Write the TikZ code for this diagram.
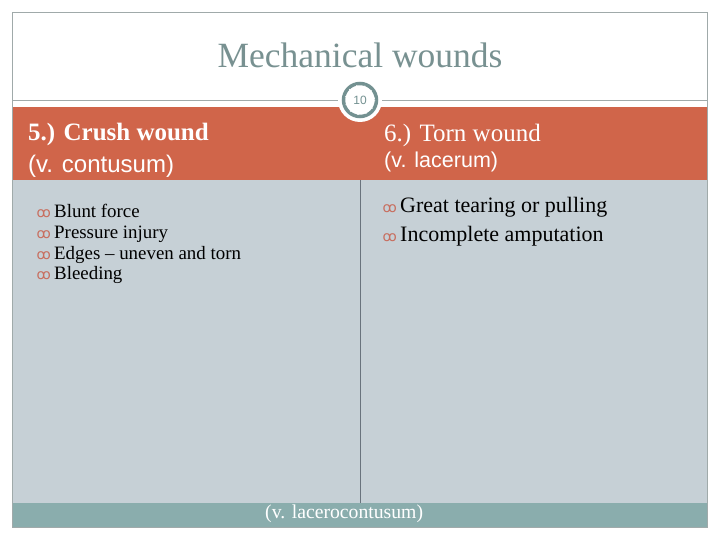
\documentclass[tikz,border=0pt]{standalone}
\usepackage{fontspec}
\setmainfont{Liberation Serif}
\setsansfont{Liberation Sans}
\newfontfamily\bulfont{DejaVu Sans}
\usetikzlibrary{positioning}
\definecolor{frameline}{RGB}{160,170,170}
\definecolor{titlegrey}{RGB}{120,145,145}
\definecolor{headred}{RGB}{208,101,74}
\definecolor{bodyblue}{RGB}{198,208,214}
\definecolor{footteal}{RGB}{138,173,173}
\definecolor{divline}{RGB}{105,115,125}
\definecolor{ringgrey}{RGB}{115,145,145}
\definecolor{bulletred}{RGB}{200,110,95}

\begin{document}
\begin{tikzpicture}[x=1pt, y=-1pt,
  hd/.style={anchor=base west, inner sep=0pt, text=white},
  itm/.style={anchor=base west, inner sep=0pt},
  bul/.style={anchor=base east, inner sep=0pt, text=bulletred, font=\bulfont\fontsize{14}{14}\selectfont}]
\useasboundingbox[fill=white] (0,0) rectangle (720,540);
% panels
\fill[bodyblue] (12,180) rectangle (707,503);
\fill[headred] (12,107) rectangle (707,180);
\fill[footteal] (12,503) rectangle (707,527);
\draw[frameline] (12,12) rectangle (707,527);
\coordinate (rl) at (12,100);
\coordinate (rr) at (707,100);
\coordinate (dtop) at (360,180);
\coordinate (dbot) at (360,503);
\draw[divline] (dtop) -- (dbot);
% title and page number
\node[inner sep=0pt, anchor=base, text=titlegrey, font=\fontsize{35.5}{40}\selectfont] (title) at (360,68) {Mechanical wounds};
\fill[white] (360,100) circle (22);
\node[circle, draw=ringgrey, line width=3.5pt, fill=white, minimum size=33pt, inner sep=0pt,
  text=ringgrey, font=\sffamily\fontsize{12}{12}\selectfont] (num) at (360,100) {10};
\draw[white, line width=0.7pt, dash pattern=on 1.2pt off 7pt] (num.center) circle (14.75);
\draw[frameline, shorten >=4pt] (rl) -- (num);
\draw[frameline, shorten >=4pt] (rr) -- (num);
% headers
\node[hd, font=\bfseries\fontsize{25}{28}\selectfont] (h5) at (28,141) {5.) Crush wound};
\node[hd, font=\sffamily\fontsize{24}{28}\selectfont] (c5) at (28,173) {(v. contusum)};
\node[hd, font=\fontsize{25}{28}\selectfont] (h6) at (384,142) {6.) Torn wound};
\node[hd, font=\sffamily\fontsize{21.5}{24}\selectfont] (c6) at (384,168) {(v. lacerum)};
% items
\foreach \t [count=\i] in {Blunt force, Pressure injury, {Edges -- uneven and torn}, Bleeding}{
  \node[itm, font=\fontsize{18.9}{21}\selectfont] (l\i) at (54,197.5+20.5*\i) {\t};
  \node[bul] (lb\i) at ([xshift=-3pt]l\i.base west) {ꝏ};
}
\foreach \t [count=\i] in {Great tearing or pulling, Incomplete amputation}{
  \node[itm, font=\fontsize{22}{25}\selectfont] (r\i) at (400,185+28*\i) {\t};
  \node[bul] (rb\i) at ([xshift=-3pt]r\i.base west) {ꝏ};
}
\node[itm, text=white, font=\fontsize{19.7}{22}\selectfont] (foot) at (265,518) {(v. lacerocontusum)};
\end{tikzpicture}
\end{document}
